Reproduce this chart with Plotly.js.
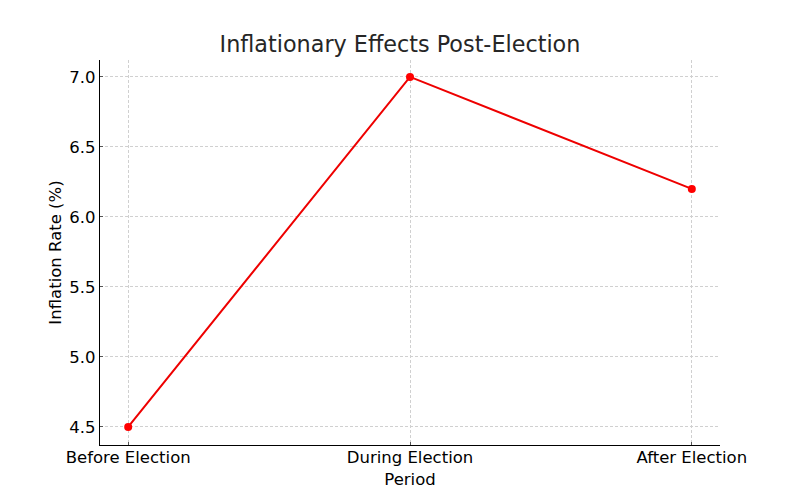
<!DOCTYPE html>
<html>
<head>
<meta charset="utf-8">
<script src="https://cdn.plot.ly/plotly-3.0.1.min.js"></script>
<style>html,body{margin:0;padding:0;background:#fff;}#chart{width:800px;height:500px;}</style>
</head>
<body>
<div id="chart"></div>
<script>
const periods = ["Before Election", "During Election", "After Election"];
const inflationRate = [4.5, 7.0, 6.2];
const yTicks = [4.5, 5.0, 5.5, 6.0, 6.5, 7.0];

const trace = {
  x: periods,
  y: inflationRate,
  type: "scatter",
  mode: "lines+markers",
  line: {color: "#ee0000", width: 2},
  marker: {color: "#ff0000", size: 8},
  hoverinfo: "skip"
};

const font = {family: "DejaVu Sans, sans-serif", color: "#000"};

const layout = {
  width: 800, height: 500,
  margin: {l: 100, r: 80, t: 60, b: 55},
  paper_bgcolor: "#fff", plot_bgcolor: "#fff",
  showlegend: false,
  font: font,
  title: {text: "Inflationary Effects Post-Election", font: {family: font.family, size: 22.3, color: "#262626"}, x: 0.5, xanchor: "center", y: 1 - 44/500, yanchor: "middle"},
  xaxis: {
    type: "category",
    range: [-0.1, 2.1],
    showline: true, linecolor: "#000", linewidth: 1.3,
    mirror: false,
    showgrid: true, gridcolor: "#d0d0d0", griddash: "3px,2px", gridwidth: 1,
    ticks: "inside", ticklen: 3, tickcolor: "#555",
    ticklabelstandoff: -3,
    tickfont: {family: font.family, size: 16.5, color: "#000"},
    title: {text: "Period", font: {family: font.family, size: 16.5, color: "#000"}, standoff: 7},
    zeroline: false,
    fixedrange: true
  },
  yaxis: {
    range: [4.371, 7.121],
    tickvals: yTicks,
    ticktext: yTicks.map(v => v.toFixed(1)),
    showline: true, linecolor: "#000", linewidth: 1.3,
    showgrid: true, gridcolor: "#d0d0d0", griddash: "3px,2px", gridwidth: 1,
    ticks: "inside", ticklen: 3, tickcolor: "#555",
    tickfont: {family: font.family, size: 16.5, color: "#000"},
    title: {text: "Inflation Rate (%)", font: {family: font.family, size: 16.5, color: "#000"}, standoff: 3},
    zeroline: false,
    fixedrange: true
  }
};

Plotly.newPlot("chart", [trace], layout, {displayModeBar: false, staticPlot: true});
</script>
</body>
</html>
